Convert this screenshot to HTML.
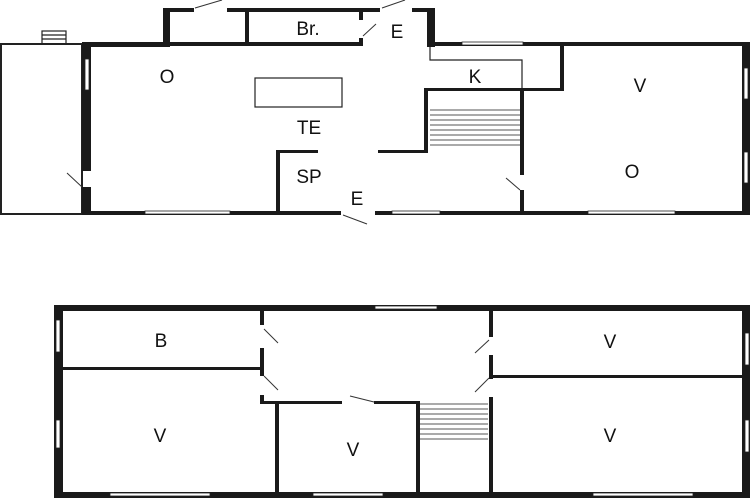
<!DOCTYPE html>
<html><head><style>html,body{margin:0;padding:0;background:#fff}svg{display:block}text{font-family:"Liberation Sans",sans-serif;font-size:19px;fill:#111;text-anchor:middle}</style></head><body>
<svg width="750" height="500" viewBox="0 0 750 500" xmlns="http://www.w3.org/2000/svg">
<rect width="750" height="500" fill="#fff"/>
<g fill="none" stroke="#222" stroke-width="1.2">
<rect x="1" y="44" width="81" height="170" stroke-width="2"/>
<rect x="42" y="31" width="24" height="13"/>
<line x1="42" y1="35" x2="66" y2="35"/><line x1="42" y1="39" x2="66" y2="39"/>
<rect x="255" y="78" width="87" height="29"/>
<polyline points="430,46 430,60 522,60 522,89"/>
</g>
<g stroke="#555" stroke-width="1">
<line x1="430" y1="110" x2="520" y2="110"/><line x1="430" y1="115" x2="520" y2="115"/><line x1="430" y1="120" x2="520" y2="120"/><line x1="430" y1="125" x2="520" y2="125"/><line x1="430" y1="130" x2="520" y2="130"/><line x1="430" y1="135" x2="520" y2="135"/><line x1="430" y1="140" x2="520" y2="140"/><line x1="430" y1="145" x2="520" y2="145"/>
<line x1="420" y1="404" x2="488" y2="404"/><line x1="420" y1="409" x2="488" y2="409"/><line x1="420" y1="414" x2="488" y2="414"/><line x1="420" y1="419" x2="488" y2="419"/><line x1="420" y1="424" x2="488" y2="424"/><line x1="420" y1="429" x2="488" y2="429"/><line x1="420" y1="434" x2="488" y2="434"/><line x1="420" y1="439" x2="488" y2="439"/>
</g>
<g fill="#1a1a1a">
<rect x="82" y="42" width="9" height="129"/><rect x="82" y="187" width="9" height="28"/>
<rect x="82" y="42" width="88" height="5"/>
<rect x="163" y="8" width="7" height="39"/>
<rect x="163" y="8" width="31" height="4"/>
<rect x="227" y="8" width="153" height="4"/>
<rect x="412" y="8" width="23" height="4"/>
<rect x="245" y="8" width="4" height="38"/>
<rect x="163" y="42" width="200" height="4"/>
<rect x="359" y="8" width="4" height="12"/><rect x="359" y="38" width="4" height="8"/>
<rect x="427" y="8" width="8" height="39"/>
<rect x="427" y="42" width="323" height="4"/>
<rect x="742" y="42" width="8" height="173"/>
<rect x="82" y="211" width="259" height="4"/>
<rect x="375" y="211" width="375" height="4"/>
<rect x="276" y="150" width="4" height="63"/>
<rect x="276" y="150" width="42" height="3"/>
<rect x="378" y="150" width="50" height="3"/>
<rect x="424" y="88" width="4" height="65"/>
<rect x="424" y="88" width="140" height="3"/>
<rect x="560" y="44" width="4" height="47"/>
<rect x="520" y="88" width="4" height="87"/><rect x="520" y="190" width="4" height="24"/>
<rect x="54" y="305" width="696" height="6"/>
<rect x="54" y="305" width="9" height="193"/>
<rect x="54" y="492" width="696" height="6"/>
<rect x="742" y="305" width="8" height="193"/>
<rect x="63" y="367" width="199" height="3"/>
<rect x="260" y="311" width="4" height="14"/><rect x="260" y="348" width="4" height="28"/><rect x="260" y="395" width="4" height="9"/>
<rect x="260" y="401" width="82" height="3"/><rect x="374" y="401" width="46" height="3"/>
<rect x="275" y="402" width="4" height="92"/>
<rect x="416" y="402" width="4" height="92"/>
<rect x="489" y="311" width="4" height="26"/><rect x="489" y="355" width="4" height="24"/><rect x="489" y="397" width="4" height="97"/>
<rect x="493" y="375" width="249" height="3"/>
</g>
<g fill="#fff" stroke="#222" stroke-width="0.8">
<rect x="85" y="59" width="4" height="31"/>
<rect x="145" y="211" width="85" height="3"/>
<rect x="392" y="211" width="48" height="3"/>
<rect x="588" y="211" width="87" height="3"/>
<rect x="462" y="42" width="61" height="3"/>
<rect x="744" y="68" width="4" height="31"/><rect x="744" y="152" width="4" height="31"/>
<rect x="375" y="306" width="62" height="3"/>
<rect x="56" y="320" width="4" height="32"/><rect x="56" y="420" width="4" height="28"/>
<rect x="745" y="333" width="4" height="32"/><rect x="745" y="420" width="4" height="32"/>
<rect x="110" y="493" width="100" height="3"/><rect x="313" y="493" width="70" height="3"/><rect x="593" y="493" width="100" height="3"/>
</g>
<g stroke="#333" stroke-width="1">
<line x1="67" y1="173" x2="82" y2="187"/>
<line x1="195" y1="8" x2="222" y2="0"/>
<line x1="382" y1="8" x2="405" y2="0"/>
<line x1="363" y1="36" x2="376" y2="24"/>
<line x1="343" y1="215" x2="367" y2="224"/>
<line x1="506" y1="178" x2="520" y2="190"/>
<line x1="264" y1="329" x2="278" y2="343"/>
<line x1="264" y1="376" x2="278" y2="390"/>
<line x1="475" y1="353" x2="489" y2="340"/>
<line x1="475" y1="392" x2="489" y2="378"/>
<line x1="350" y1="396" x2="374" y2="402"/>
</g>
<text x="167" y="83">O</text>
<text x="309" y="134">TE</text>
<text x="309" y="183">SP</text>
<text x="357" y="205">E</text>
<text x="308" y="35">Br.</text>
<text x="397" y="38">E</text>
<text x="475" y="83">K</text>
<text x="640" y="92">V</text>
<text x="632" y="178">O</text>
<text x="161" y="347">B</text>
<text x="160" y="442">V</text>
<text x="353" y="456">V</text>
<text x="610" y="348">V</text>
<text x="610" y="442">V</text>
</svg>
</body></html>
